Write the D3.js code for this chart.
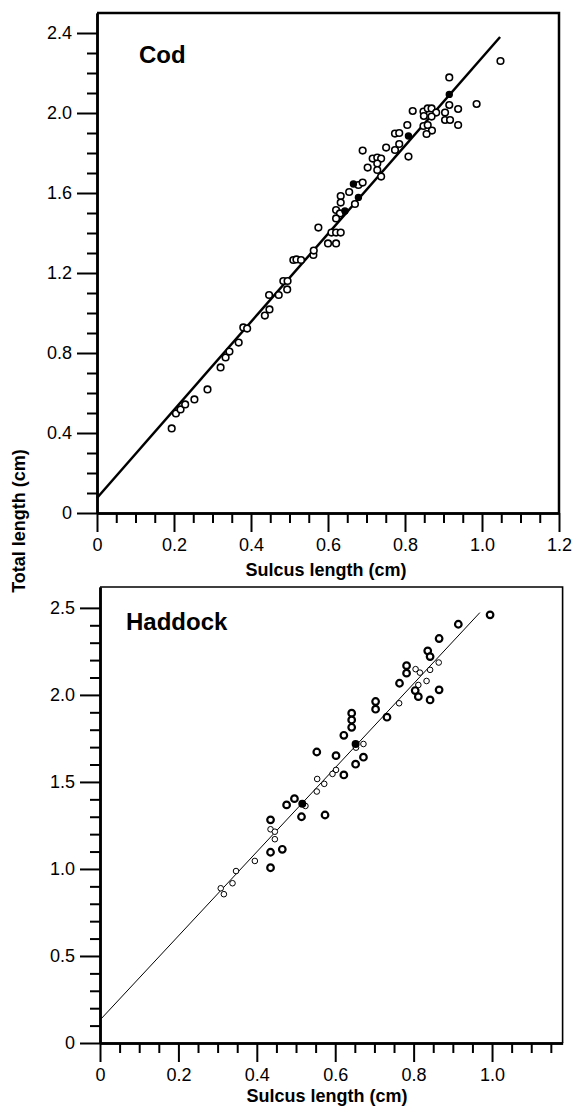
<!DOCTYPE html>
<html>
<head>
<meta charset="utf-8">
<script src="https://cdn.jsdelivr.net/npm/d3@7"></script>
<style>
body{margin:0;background:#fff;}
svg{display:block;font-family:"Liberation Sans",Arial,Helvetica,sans-serif;}
.tick text{font-size:18px;fill:#000;}
.title{font-size:24px;font-weight:bold;}
.label{font-size:18px;font-weight:bold;}
</style>
</head>
<body>
<svg id="chart"></svg>
<script>
// ---- data ----
var codOpen=[[0.194,0.423],[0.205,0.498],[0.217,0.518],[0.229,0.543],[0.253,0.568],[0.287,0.618],
  [0.321,0.728],[0.334,0.778],[0.344,0.807],[0.368,0.852],[0.380,0.928],[0.390,0.922],[0.436,0.987],
  [0.448,1.018],[0.447,1.09],[0.472,1.09],[0.484,1.16],[0.495,1.16],[0.494,1.118],[0.510,1.265],
  [0.518,1.268],[0.530,1.265],[0.562,1.29],[0.563,1.312],[0.575,1.427],[0.600,1.348],[0.621,1.348],
  [0.609,1.402],[0.621,1.402],[0.633,1.402],[0.621,1.515],[0.631,1.498],[0.621,1.473],[0.633,1.585],
  [0.633,1.552],[0.655,1.605],[0.679,1.64],[0.690,1.652],[0.670,1.545],[0.690,1.812],[0.703,1.727],
  [0.716,1.772],[0.728,1.777],[0.738,1.772],[0.728,1.747],[0.728,1.715],[0.738,1.682],[0.751,1.827],
  [0.774,1.897],[0.785,1.90],[0.774,1.815],[0.785,1.845],[0.806,1.94],[0.809,1.782],[0.820,2.01],
  [0.848,2.007],[0.859,2.023],[0.869,2.023],[0.881,2.002],[0.849,1.985],[0.869,1.982],[0.848,1.935],
  [0.859,1.94],[0.870,1.912],[0.856,1.895],[0.904,2.002],[0.904,1.965],[0.917,1.965],[0.915,2.04],
  [0.915,2.178],[0.938,2.02],[0.938,1.94],[0.986,2.045],[1.048,2.26]]
var codFilled=[[0.644,1.51],[0.666,1.645],[0.679,1.578],[0.809,1.885],[0.915,2.093]]
var codLine=[[0,0.075],[1.047,2.38]]

var hadBold=[[0.995,2.46],[0.914,2.406],[0.865,2.324],[0.836,2.253],[0.842,2.22],[0.782,2.168],
  [0.782,2.125],[0.764,2.067],[0.804,2.025],[0.812,1.99],[0.842,1.971],[0.865,2.029],[0.703,1.962],
  [0.703,1.918],[0.732,1.872],[0.642,1.895],[0.642,1.856],[0.642,1.814],[0.622,1.768],[0.672,1.642],
  [0.652,1.602],[0.622,1.54],[0.602,1.651],[0.553,1.672],[0.496,1.404],[0.476,1.368],[0.514,1.30],
  [0.574,1.31],[0.435,1.282],[0.435,1.096],[0.465,1.113],[0.435,1.007]]
var hadFilled=[[0.652,1.718],[0.516,1.374]]
var hadThin=[[0.864,2.186],[0.842,2.144],[0.805,2.148],[0.816,2.128],[0.833,2.08],[0.812,2.057],
  [0.763,1.952],[0.672,1.718],[0.653,1.697],[0.602,1.569],[0.593,1.546],[0.554,1.517],[0.572,1.489],
  [0.553,1.445],[0.524,1.362],[0.435,1.228],[0.446,1.214],[0.446,1.171],[0.395,1.046],[0.347,0.988],
  [0.338,0.918],[0.308,0.889],[0.316,0.855]]
var hadLine=[[0,0.132],[0.969,2.473]]

// tick values
var codXMajor=[0,0.2,0.4,0.6,0.8,1.0,1.2]
var codXLabels=["0","0.2","0.4","0.6","0.8","1.0","1.2"]
var codYMajor=[0,0.4,0.8,1.2,1.6,2.0,2.4]
var codYLabels=["0","0.4","0.8","1.2","1.6","2.0","2.4"]
var hadXMajor=[0,0.2,0.4,0.6,0.8,1.0]
var hadXLabels=["0","0.2","0.4","0.6","0.8","1.0"]
var hadYMajor=[0,0.5,1.0,1.5,2.0,2.5]
var hadYLabels=["0","0.5","1.0","1.5","2.0","2.5"]
var codXMinor=[0.05,0.1,0.15,0.25,0.3,0.35,0.45,0.5,0.55,0.65,0.7,0.75,0.85,0.9,0.95,1.05,1.1,1.15]
var codYMinor=[0.1,0.2,0.3,0.5,0.6,0.7,0.9,1.0,1.1,1.3,1.4,1.5,1.7,1.8,1.9,2.1,2.2,2.3]
var hadXMinor=[0.05,0.1,0.15,0.25,0.3,0.35,0.45,0.5,0.55,0.65,0.7,0.75,0.85,0.9,0.95,1.05,1.1,1.15]
var hadYMinor=[0.1,0.2,0.3,0.4,0.6,0.7,0.8,0.9,1.1,1.2,1.3,1.4,1.6,1.7,1.8,1.9,2.1,2.2,2.3,2.4]

var svg=d3.select("#chart").attr("width",576).attr("height",1108)

var drawPanel=function(p){
    var xScale=d3.scaleLinear().domain(p.xDomain).range([p.left,p.right])
    var yScale=d3.scaleLinear().domain(p.yDomain).range([p.bottom,p.top])
    var g=svg.append("g")

    // frame (top and right)
    g.append("path")
        .attr("d","M"+p.left+","+p.top+"H"+p.right+"V"+p.bottom)
        .attr("fill","none").attr("stroke","#000").attr("stroke-width",p.frameW)

    // minor ticks
    g.append("g").attr("transform","translate(0,"+p.bottom+")")
        .call(d3.axisBottom(xScale).tickValues(p.xMinor).tickSize(10).tickSizeOuter(0).tickFormat(""))
    g.append("g").attr("transform","translate("+p.left+",0)")
        .call(d3.axisLeft(yScale).tickValues(p.yMinor).tickSize(10).tickSizeOuter(0).tickFormat(""))
    // major ticks + labels
    var xa=g.append("g").attr("transform","translate(0,"+p.bottom+")")
        .call(d3.axisBottom(xScale).tickValues(p.xMajor).tickSize(19).tickSizeOuter(0).tickPadding(6)
            .tickFormat(function(d,i){return p.xLabels[i]}))
    var ya=g.append("g").attr("transform","translate("+p.left+",0)")
        .call(d3.axisLeft(yScale).tickValues(p.yMajor).tickSize(20).tickSizeOuter(0).tickPadding(5)
            .tickFormat(function(d,i){return p.yLabels[i]}))
    g.selectAll(".domain").attr("stroke-width",2.5).attr("stroke","#000")
    g.selectAll(".tick line").attr("stroke-width",2).attr("stroke","#000")
    xa.selectAll("text").attr("font-family",null).attr("font-size",null).attr("dy","0.71em")
    ya.selectAll("text").attr("font-family",null).attr("font-size",null)

    // fit line
    var lineGen=d3.line().x(function(d){return xScale(d[0])}).y(function(d){return yScale(d[1])})
    g.append("path").datum(p.line).attr("d",lineGen)
        .attr("fill","none").attr("stroke","#000").attr("stroke-width",p.lineW)

    p.series.forEach(function(s){
        g.append("g").selectAll("circle").data(s.data).enter().append("circle")
            .attr("cx",function(d){return xScale(d[0])})
            .attr("cy",function(d){return yScale(d[1])})
            .attr("r",s.r)
            .attr("fill",s.fill)
            .attr("stroke","#000")
            .attr("stroke-width",s.sw)
    })

    g.append("text").text(p.name).classed("title",true)
        .attr("x",p.nameX).attr("y",p.nameY)
    g.append("text").text("Sulcus length (cm)").classed("label",true)
        .attr("text-anchor","middle").attr("x",p.xLabelX).attr("y",p.xLabelY)
}

drawPanel({
    xDomain:[0,1.2],yDomain:[0,2.5],left:97,right:559,top:13,bottom:513,frameW:2.5,lineW:2.5,
    xMajor:codXMajor,xLabels:codXLabels,yMajor:codYMajor,yLabels:codYLabels,xMinor:codXMinor,yMinor:codYMinor,
    line:codLine,
    series:[{data:codOpen,r:3.3,fill:"#fff",sw:1.6},{data:codFilled,r:3,fill:"#000",sw:1.4}],
    name:"Cod",nameX:139,nameY:63,xLabelX:326,xLabelY:576
})
drawPanel({
    xDomain:[0,1.18],yDomain:[0,2.62],left:100,right:562.6,top:587,bottom:1043,frameW:1.6,lineW:1,
    xMajor:hadXMajor,xLabels:hadXLabels,yMajor:hadYMajor,yLabels:hadYLabels,xMinor:hadXMinor,yMinor:hadYMinor,
    line:hadLine,
    series:[{data:hadThin,r:2.8,fill:"#fff",sw:1},{data:hadBold,r:3.3,fill:"#fff",sw:2.2},{data:hadFilled,r:3,fill:"#000",sw:2}],
    name:"Haddock",nameX:126,nameY:630,xLabelX:327,xLabelY:1102
})

svg.append("g").attr("transform","translate(25,521)")
    .append("text").text("Total length (cm)").classed("label",true)
    .attr("text-anchor","middle").attr("transform","rotate(-90)")
</script>
</body>
</html>
